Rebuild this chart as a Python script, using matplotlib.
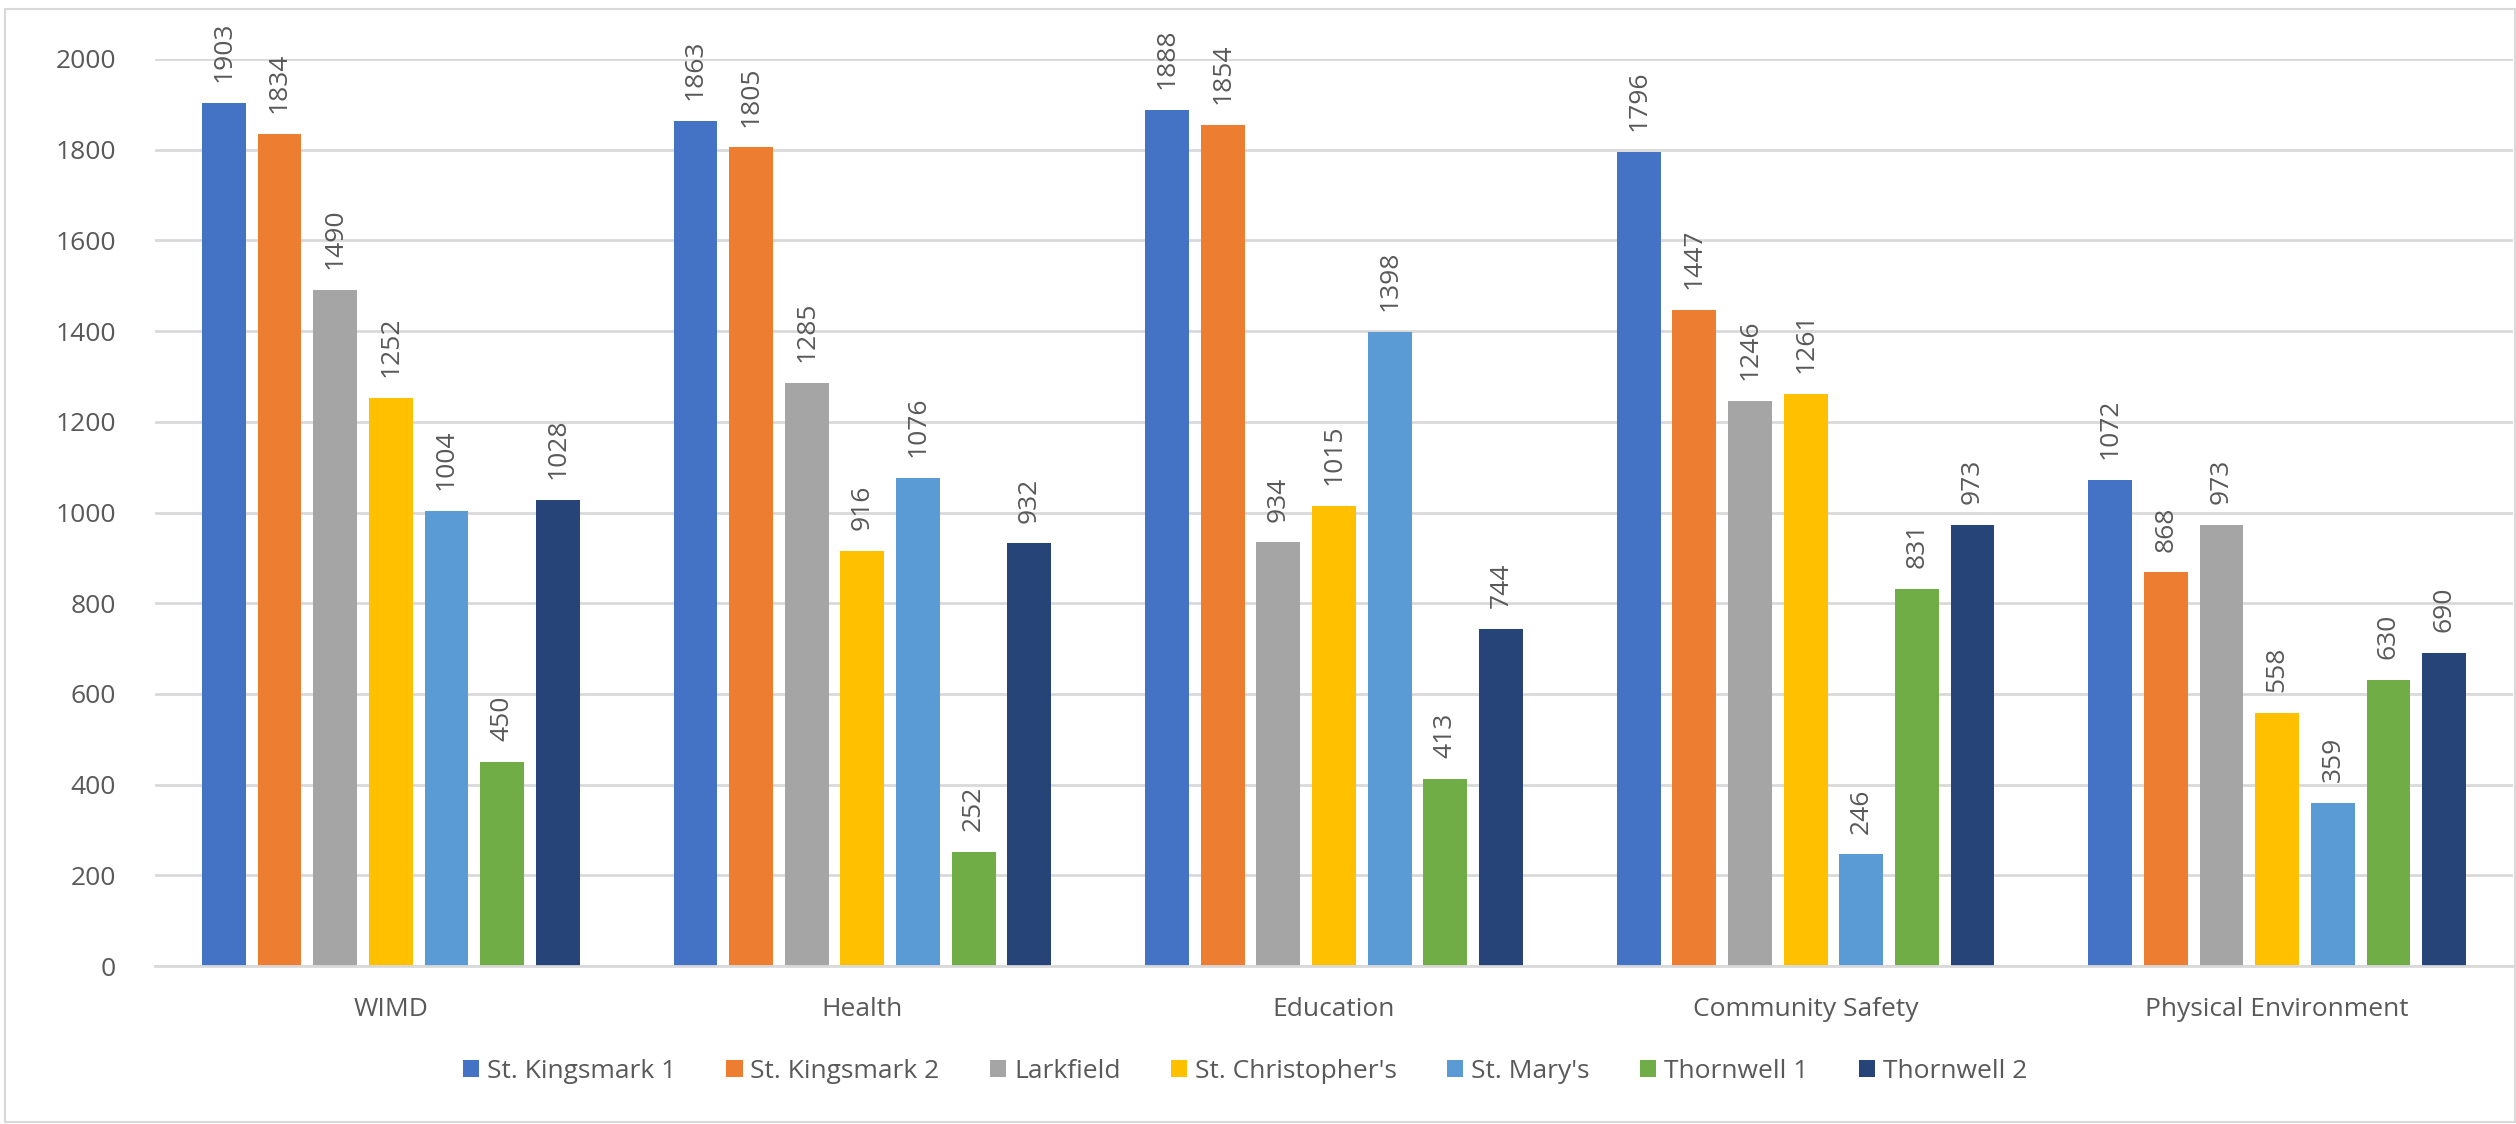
import matplotlib
matplotlib.use("Agg")
import matplotlib.pyplot as plt
import numpy as np
from matplotlib.patches import Rectangle

categories = ["WIMD", "Health", "Education", "Community Safety", "Physical Environment"]
series_names = ["St. Kingsmark 1", "St. Kingsmark 2", "Larkfield", "St. Christopher's",
                "St. Mary's", "Thornwell 1", "Thornwell 2"]
st_kingsmark_1 = [1903, 1863, 1888, 1796, 1072]
st_kingsmark_2 = [1834, 1805, 1854, 1447, 868]
larkfield = [1490, 1285, 934, 1246, 973]
st_christophers = [1252, 916, 1015, 1261, 558]
st_marys = [1004, 1076, 1398, 246, 359]
thornwell_1 = [450, 252, 413, 831, 630]
thornwell_2 = [1028, 932, 744, 973, 690]
series_values = [st_kingsmark_1, st_kingsmark_2, larkfield, st_christophers,
                 st_marys, thornwell_1, thornwell_2]
colors = ["#4472C4", "#ED7D31", "#A5A5A5", "#FFC000", "#5B9BD5", "#70AD47", "#264478"]
y_ticks = [0, 200, 400, 600, 800, 1000, 1200, 1400, 1600, 1800, 2000]

plt.rcParams['font.family'] = ['Open Sans', 'DejaVu Sans']
W, H = 2516, 1124
fig = plt.figure(figsize=(W / 100, H / 100), dpi=100)
fig.patch.set_facecolor("white")

left, right, top, bottom = 155, 2513, 59, 966
ax = fig.add_axes([left / W, 1 - bottom / H, (right - left) / W, (bottom - top) / H])

txt = "#595959"
grid = "#D9D9D9"
fs = 19
n = len(series_names)
pitch = 0.118
width = 0.093
x = np.arange(len(categories))
for i, (name, vals, c) in enumerate(zip(series_names, series_values, colors)):
    off = (i - (n - 1) / 2) * pitch
    bars = ax.bar(x + off, vals, width=width, color=c, label=name, zorder=3)
    ax.bar_label(bars, labels=[str(v) for v in vals], rotation=90, padding=15,
                 fontsize=fs, color=txt, clip_on=False)

ax.set_xlim(-0.5, len(categories) - 0.5)
ax.set_ylim(0, 2000)
ax.set_yticks(y_ticks)
ax.set_yticklabels([str(t) for t in y_ticks])
ax.set_xticks(x)
ax.set_xticklabels(categories)
ax.tick_params(axis='both', length=0, labelsize=fs, labelcolor=txt)
ax.tick_params(axis='y', pad=28)
ax.tick_params(axis='x', pad=22)
ax.grid(axis='y', color=grid, linewidth=2, zorder=0)
for s in ["top", "right", "left"]:
    ax.spines[s].set_visible(False)
ax.spines["bottom"].set_color(grid)
ax.spines["bottom"].set_linewidth(2)
ax.spines["bottom"].set_zorder(4)

leg = fig.legend(loc="center", bbox_to_anchor=(1245 / W, 1 - 1071 / H), ncol=7, frameon=False,
                 fontsize=fs, handlelength=0.62, handleheight=0.62, handletextpad=0.3,
                 columnspacing=1.9, labelcolor=txt)

fig.patches.append(Rectangle((5 / W, 1 - 1122 / H), (2515 - 5) / W, (1122 - 9) / H,
                             transform=fig.transFigure, fill=False, edgecolor="#D9D9D9",
                             linewidth=1.5))

fig.savefig("out.png", dpi=100)
